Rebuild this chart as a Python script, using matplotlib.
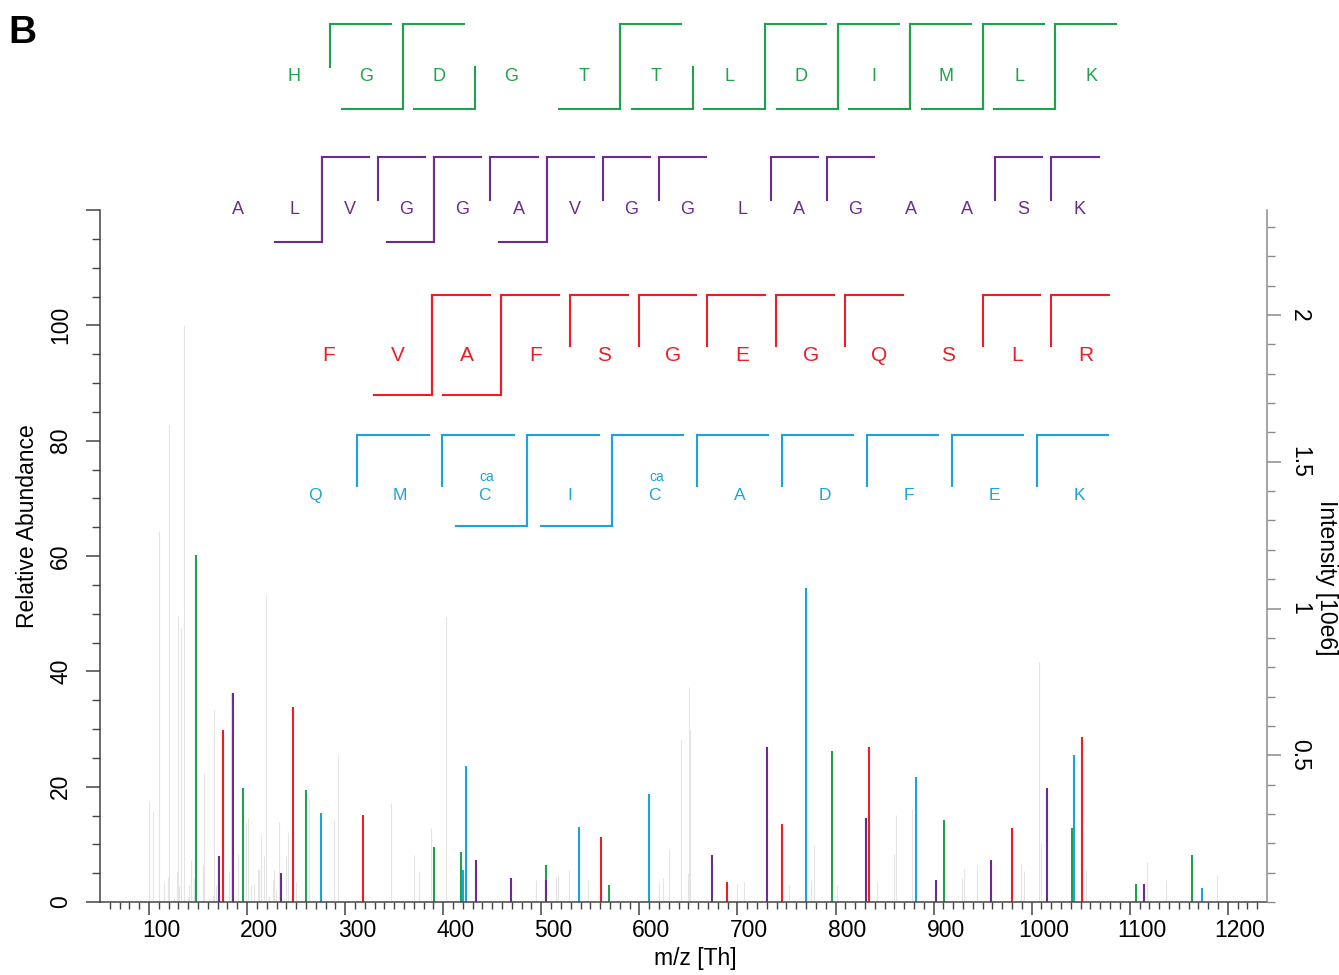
import matplotlib
matplotlib.use("Agg")
import matplotlib.pyplot as plt
import matplotlib.transforms as mtransforms
from matplotlib.ticker import FixedLocator, MultipleLocator

plt.rcParams['font.family'] = ['Liberation Sans', 'DejaVu Sans']

# --- spectrum data: m/z [Th] and relative abundance [%] ---
gray_mz = [100.3, 103.7, 110.5, 115.6, 119.1, 120.7, 125.8, 128.2, 129.2, 130.9,
           132.6, 135.9, 139.3, 141.0, 142.8, 146.2, 154.7, 156.4, 161.5, 164.9,
           166.6, 168.3, 181.9, 183.6, 190.4, 198.9, 200.6, 204.0, 207.4, 210.8,
           212.5, 214.2, 217.6, 219.3, 222.7, 226.1, 227.8, 229.5, 232.9, 239.7,
           241.4, 249.8, 263.4, 288.9, 292.3, 346.6, 370.4, 375.5, 387.5, 402.8,
           494.5, 514.9, 516.6, 528.5, 547.2, 620.2, 623.6, 630.4, 642.3, 649.1,
           650.8, 652.0, 699.8, 706.6, 752.6, 774.8, 778.2, 801.9, 842.6, 859.6,
           861.5, 878.3, 929.3, 931.0, 944.6, 988.9, 992.3, 1007.6, 1009.3, 1055.2,
           1118.0, 1136.7, 1189.3]
gray_int = [17.4, 15.6, 64.3, 3.5, 4.4, 82.7, 0.7, 5.3, 49.7, 2.7,
            47.5, 100.0, 0.9, 2.9, 7.3, 4.1, 6.4, 22.3, 0.7, 1.2,
            33.3, 2.9, 5.3, 36.4, 8.4, 13.9, 14.5, 2.9, 3.2, 5.5,
            5.8, 11.6, 7.9, 53.2, 0.9, 3.8, 5.5, 2.1, 13.9, 7.9,
            12.2, 3.5, 18.0, 14.2, 25.5, 17.1, 8.1, 5.3, 12.8, 49.4,
            3.8, 4.4, 4.7, 5.5, 3.8, 3.5, 4.1, 9.0, 28.1, 5.0,
            37.3, 29.8, 3.2, 3.5, 2.9, 3.8, 9.9, 2.9, 3.5, 8.4,
            15.1, 16.2, 4.1, 5.8, 6.4, 6.7, 5.3, 41.6, 10.2, 5.5,
            7.0, 3.8, 4.7]

green_mz = [148.0, 195.5, 260.0, 390.8, 418.0, 504.7, 569.3, 796.8, 910.7, 1041.5, 1106.1, 1163.8]
green_int = [60.1, 19.7, 19.4, 9.6, 8.7, 6.4, 2.9, 26.1, 14.2, 12.8, 3.2, 8.1]
purple_mz = [171.7, 185.3, 234.6, 433.3, 469.0, 504.7, 674.5, 730.6, 830.9, 902.2, 958.3, 1016.0, 1114.6]
purple_int = [7.9, 36.2, 5.0, 7.3, 4.1, 3.8, 8.1, 26.9, 14.5, 3.8, 7.3, 19.7, 3.2]
red_mz = [175.1, 246.5, 318.1, 560.8, 689.8, 745.9, 834.3, 980.3, 1051.6]
red_int = [29.8, 33.8, 15.1, 11.3, 3.5, 13.6, 26.9, 12.8, 28.6]
blue_mz = [275.3, 419.8, 423.1, 538.6, 610.0, 769.6, 882.4, 1043.2, 1174.0]
blue_int = [15.4, 5.5, 23.5, 13.0, 18.8, 54.4, 21.7, 25.5, 2.4]

base_peak = 1.965  # intensity of 100 % peak [10e6]

# --- peptide fragment ladders (1 = fragment observed at that cleavage) ---
pep_green = "HGDGTTLDIMLK"
green_top = [1, 1, 0, 0, 1, 0, 1, 1, 1, 1, 1]
green_bot = [0, 1, 1, 0, 1, 1, 1, 1, 1, 1, 1]
pep_purple = "ALVGGAVGGLAGAASK"
purple_top = [0, 1, 1, 1, 1, 1, 1, 1, 0, 1, 1, 0, 0, 1, 1]
purple_bot = [0, 1, 0, 1, 0, 1, 0, 0, 0, 0, 0, 0, 0, 0, 0]
pep_red = "FVAFSGEGQSLR"
red_top = [0, 1, 1, 1, 1, 1, 1, 1, 0, 1, 1]
red_bot = [0, 1, 1, 0, 0, 0, 0, 0, 0, 0, 0]
pep_blue = "QMCICADFEK"
blue_top = [1, 1, 1, 1, 1, 1, 1, 1, 1]
blue_bot = [0, 0, 1, 1, 0, 0, 0, 0, 0]
blue_mods = ["", "", "ca", "", "ca", "", "", "", "", ""]

GREEN = "#20a14b"
PURPLE = "#6a2c91"
RED = "#ee1d25"
BLUE = "#1ba3de"
GRAY = "#e4e4e4"

W, H, DPI = 1339, 975, 100
fig = plt.figure(figsize=(W / DPI, H / DPI), dpi=DPI)
ax = fig.add_axes([100 / W, (H - 902) / H, 1167 / W, 692 / H])

ax.vlines(gray_mz, 0, gray_int, colors=GRAY, lw=0.8)
ax.vlines(green_mz, 0, green_int, colors=GREEN, lw=1.5)
ax.vlines(red_mz, 0, red_int, colors=RED, lw=1.5)
ax.vlines(blue_mz, 0, blue_int, colors=BLUE, lw=1.5)
ax.vlines(purple_mz, 0, purple_int, colors=PURPLE, lw=1.5)

ax.set_xlim(50, 1240)
ax.set_ylim(0, 120)
for s in ["top", "right"]:
    ax.spines[s].set_visible(False)
for s in ["left", "bottom"]:
    ax.spines[s].set_color("#444444")
    ax.spines[s].set_linewidth(1.1)

ax.xaxis.set_major_locator(FixedLocator(range(100, 1201, 100)))
ax.xaxis.set_minor_locator(FixedLocator([v for v in range(60, 1231, 10) if v % 100]))
ax.tick_params(axis="x", which="major", length=9, width=1.1, color="#444444",
               labelsize=16.5, pad=3)
ax.tick_params(axis="x", which="minor", length=5, width=1.0, color="#444444")

ax.yaxis.set_major_locator(FixedLocator(range(0, 121, 20)))
ax.set_yticklabels(["0", "20", "40", "60", "80", "100", ""])
ax.yaxis.set_minor_locator(MultipleLocator(5))
ax.tick_params(axis="y", which="major", length=10, width=1.1, color="#444444",
               labelsize=16.5, labelrotation=90, pad=10)
ax.tick_params(axis="y", which="minor", length=6, width=1.0, color="#444444")
for lab in ax.get_yticklabels():
    lab.set_va("center")

offset = mtransforms.ScaledTranslation(12 / DPI, 0, fig.dpi_scale_trans)
for lab in ax.get_xticklabels():
    lab.set_transform(lab.get_transform() + offset)

ax.set_xlabel("m/z [Th]", fontsize=16.5, va="center")
ax.xaxis.set_label_coords(0.51, -0.081)
ax.set_ylabel("Relative Abundance", fontsize=16.5, va="center")
ax.yaxis.set_label_coords(-0.0617, 0.543)

ax2 = ax.twinx()
ax2.set_ylim(0, 120 * base_peak / 100)
for s in ["top", "left", "bottom"]:
    ax2.spines[s].set_visible(False)
ax2.spines["right"].set_color("#8c8c8c")
ax2.spines["right"].set_linewidth(1.1)
ax2.yaxis.set_major_locator(FixedLocator([0.5, 1.0, 1.5, 2.0]))
ax2.set_yticklabels(["0.5", "1", "1.5", "2"])
ax2.yaxis.set_minor_locator(MultipleLocator(0.1))
ax2.tick_params(axis="y", which="major", length=10, width=1.1, color="#8c8c8c",
                labelsize=16.5, labelrotation=-90, pad=5)
ax2.tick_params(axis="y", which="minor", length=6, width=1.0, color="#8c8c8c")
for lab in ax2.get_yticklabels():
    lab.set_va("center")
ax2.set_ylabel("Intensity [10e6]", fontsize=16.5, rotation=-90, va="center")
ax2.yaxis.set_label_coords(1.0514, 0.468)

fig.text(8 / W, 1 - 43 / H, "B", fontsize=28, fontweight="bold", ha="left", va="baseline")

# --- fragment ladder overlay in pixel coordinates ---
ov = fig.add_axes([0, 0, 1, 1], facecolor="none")
ov.set_xlim(0, W)
ov.set_ylim(H, 0)
ov.axis("off")


def ladder(seq, top, bot, color, x0, dx, y_let, y_top, y_bot, fs, mods=None):
    cap = 0.716 * fs * DPI / 72
    for i, aa in enumerate(seq):
        x = x0 + i * dx
        ov.text(x, y_let + cap / 2, aa, color=color, fontsize=fs,
                ha="center", va="baseline")
        if mods and mods[i]:
            ov.text(x + 2, y_let - cap / 2 - 7, mods[i], color=color,
                    fontsize=10, ha="center", va="baseline")
    arm = 0.84 * dx
    gap = 8
    for k in range(len(seq) - 1):
        bx = x0 + (k + 0.5) * dx
        t, b = top[k], bot[k]
        if t:
            ov.plot([bx + arm, bx, bx], [y_top, y_top, y_bot if b else y_let - gap],
                    color=color, lw=1.5, solid_joinstyle="miter")
        if b:
            ov.plot([bx - arm, bx, bx], [y_bot, y_bot, y_top if t else y_let - gap],
                    color=color, lw=1.5, solid_joinstyle="miter")


ladder(pep_green, green_top, green_bot, GREEN, 294, 72.5, 75, 24, 109, 13)
ladder(pep_purple, purple_top, purple_bot, PURPLE, 238, 56.1, 208, 157, 242, 13)
ladder(pep_red, red_top, red_bot, RED, 329, 68.8, 354, 295, 395, 15)
ladder(pep_blue, blue_top, blue_bot, BLUE, 315, 84.9, 494, 435, 526, 12.5, blue_mods)

fig.savefig("out.png", dpi=DPI)
